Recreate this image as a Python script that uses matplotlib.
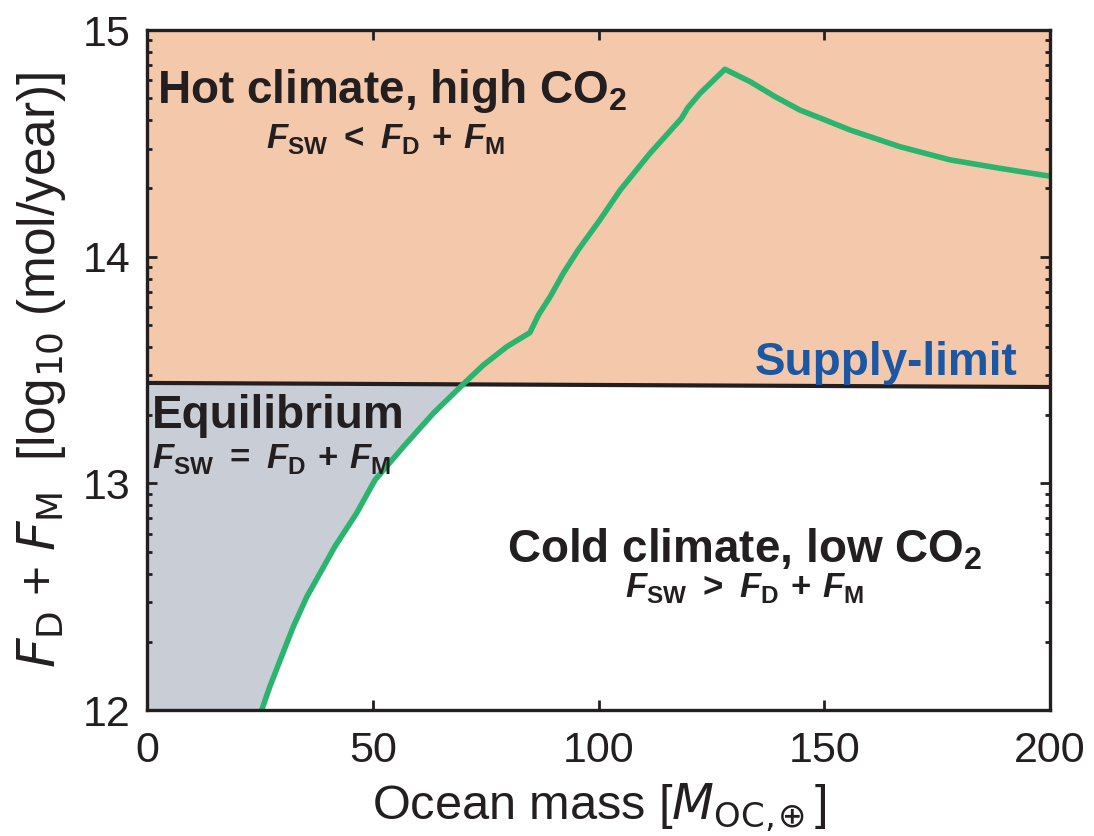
import matplotlib.pyplot as plt
from matplotlib.ticker import FixedLocator, FuncFormatter, LogLocator, NullFormatter
import numpy as np

plt.rcParams['font.family'] = ['Liberation Sans Narrow', 'Liberation Sans', 'DejaVu Sans']
plt.rcParams['mathtext.fontset'] = 'custom'
plt.rcParams['mathtext.rm'] = 'Liberation Sans Narrow'
plt.rcParams['mathtext.it'] = 'Liberation Sans Narrow:italic'
plt.rcParams['mathtext.bf'] = 'Liberation Sans:bold'
plt.rcParams['mathtext.bfit'] = 'Liberation Sans:bold:italic'

# weathering = outgassing curve: ocean mass vs log10 flux
ocean_mass = [25.4, 27.2, 29.5, 32.4, 35.4, 38.3, 41.6, 46.4, 50.5, 56.8, 63.4, 70.0,
              74.5, 79.7, 84.8, 86.7, 89.3, 92.2, 95.5, 100.3, 104.8, 111.4, 118.4,
              119.7, 122.5, 128.0, 133.6, 139.1, 144.6, 150.2, 155.7, 166.8, 177.9,
              188.9, 200.0]
log_flux = [12.0, 12.103, 12.221, 12.368, 12.5, 12.603, 12.721, 12.868, 13.015, 13.162,
            13.309, 13.437, 13.522, 13.603, 13.665, 13.743, 13.824, 13.927, 14.03,
            14.162, 14.294, 14.456, 14.611, 14.655, 14.721, 14.827, 14.772, 14.706,
            14.647, 14.603, 14.559, 14.485, 14.427, 14.39, 14.355]
n_lower = 12  # points up to the supply limit

# supply-limited flux
supply_mass = [0, 200]
supply_log_flux = [13.443, 13.425]

y_ticks = [12, 13, 14, 15]

c_hot = '#F4C9AB'
c_eq = '#C9CDD6'
c_green = '#2BB46E'
c_blue = '#1B57A3'
c_text = '#231F20'

flux = 10.0 ** np.array(log_flux)
supply = 10.0 ** np.array(supply_log_flux)

fig = plt.figure(figsize=(10.94, 8.36), dpi=100)
ax = fig.add_axes([0.1344, 0.1507, 0.8254, 0.8134])

ax.fill_between(supply_mass, supply, 1e15, color=c_hot, lw=0, zorder=1)
eq_x = [0] + ocean_mass[:n_lower] + [0]
eq_y = [1e12] + list(flux[:n_lower]) + [supply[0]]
ax.fill(eq_x, eq_y, color=c_eq, lw=0, zorder=1)

ax.plot(supply_mass, supply, color=c_text, lw=3, zorder=3, solid_capstyle='butt')
ax.plot(ocean_mass, flux, color=c_green, lw=4, zorder=4)

ax.set_xlim(0, 200)
ax.set_yscale('log')
ax.set_ylim(1e12, 1e15)
ax.yaxis.set_major_locator(FixedLocator([10.0 ** t for t in y_ticks]))
ax.yaxis.set_major_formatter(FuncFormatter(lambda v, p: f'{np.log10(v):.0f}'))
ax.yaxis.set_minor_locator(LogLocator(base=10, subs=np.arange(2, 10)))
ax.yaxis.set_minor_formatter(NullFormatter())
ax.set_xticks([0, 50, 100, 150, 200])

for s in ax.spines.values():
    s.set_linewidth(2.4)
    s.set_color(c_text)
    s.set_zorder(5)
ax.tick_params(which='both', direction='in', top=True, right=True, color=c_text,
               width=2, labelsize=31, labelcolor=c_text)
ax.tick_params(which='major', length=7, pad=12)
ax.tick_params(which='minor', length=3.8)
ax.tick_params(axis='x', which='major', pad=15)
for lab in ax.get_xticklabels() + ax.get_yticklabels():
    lab.set_family('Liberation Sans')

ax.set_xlabel(r'Ocean mass [$\mathit{M}_{\mathrm{OC,}\!\!\oplus}$]', fontsize=35, color=c_text)
ax.set_ylabel(r'$\mathit{F}_{\mathrm{D}}$ + $\mathit{F}_{\mathrm{M}}$  [log$_{10}$ (mol/year)]',
              fontsize=37, color=c_text)
ax.xaxis.set_label_coords(0.5, -0.105)
ax.yaxis.set_label_coords(-0.088, 0.5)

bold = dict(family='Liberation Sans', fontweight='bold', color=c_text, zorder=6)
ax.text(2.2, 10 ** 14.678, r'Hot climate, high CO$_\mathbf{2}$', fontsize=33, va='baseline', **bold)
ax.text(52.9, 10 ** 14.479, r'$\mathbfit{F}_{\mathbf{SW}}\;\mathbf{<}\;\mathbfit{F}_{\mathbf{D}}\ \mathbf{+}\ \mathbfit{F}_{\mathbf{M}}$',
        fontsize=25, ha='center', va='baseline', **bold)
ax.text(1.1, 10 ** 13.244, 'Equilibrium', fontsize=33, va='baseline', **bold)
ax.text(1.1, 10 ** 13.068, r'$\mathbfit{F}_{\mathbf{SW}}\;\mathbf{=}\;\mathbfit{F}_{\mathbf{D}}\ \mathbf{+}\ \mathbfit{F}_{\mathbf{M}}$',
        fontsize=25, va='baseline', **bold)
ax.text(132.4, 10 ** 12.653, r'Cold climate, low CO$_\mathbf{2}$', fontsize=33,
        ha='center', va='baseline', **bold)
ax.text(132.4, 10 ** 12.499, r'$\mathbfit{F}_{\mathbf{SW}}\;\mathbf{>}\;\mathbfit{F}_{\mathbf{D}}\ \mathbf{+}\ \mathbfit{F}_{\mathbf{M}}$',
        fontsize=25, ha='center', va='baseline', **bold)
ax.text(192.8, 10 ** 13.478, 'Supply-limit', fontsize=33, ha='right', va='baseline',
        family='Liberation Sans', fontweight='bold', color=c_blue, zorder=6)

fig.savefig('out.png', dpi=100)
